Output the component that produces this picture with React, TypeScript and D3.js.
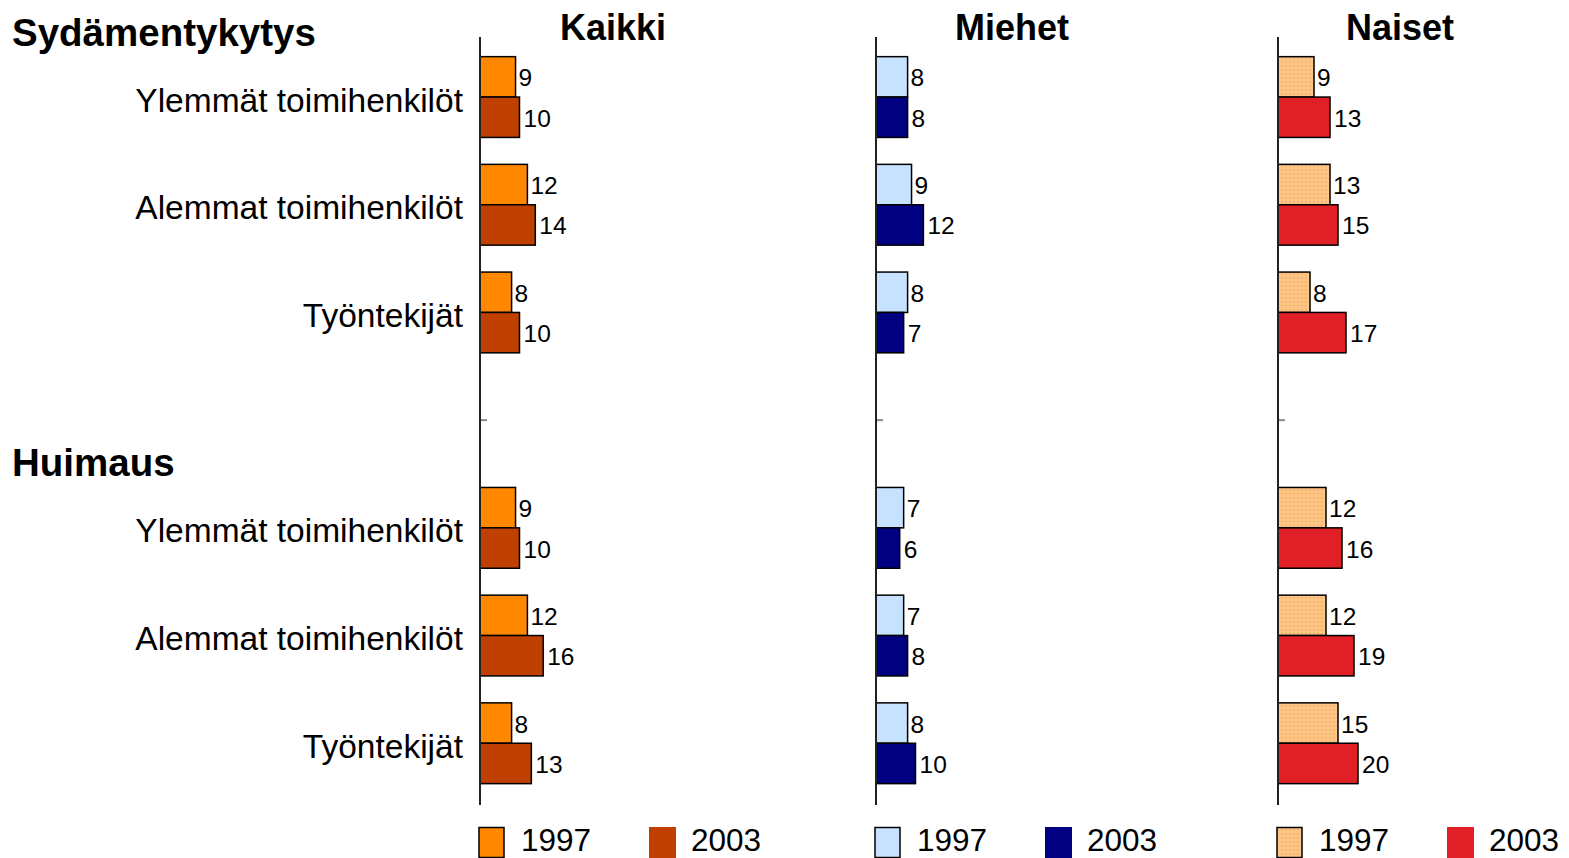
import React from "react";
import * as d3 from "d3";

const sections = ["Sydämentykytys", "Huimaus"];
const categories = ["Ylemmät toimihenkilöt", "Alemmat toimihenkilöt", "Työntekijät"];
const panels = ["Kaikki", "Miehet", "Naiset"];
const years = ["1997", "2003"];

const kaikki1997 = [9, 12, 8, 9, 12, 8];
const kaikki2003 = [10, 14, 10, 10, 16, 13];
const miehet1997 = [8, 9, 8, 7, 7, 8];
const miehet2003 = [8, 12, 7, 6, 8, 10];
const naiset1997 = [9, 13, 8, 12, 12, 15];
const naiset2003 = [13, 15, 17, 16, 19, 20];

const panelData = [
  { name: panels[0], v1997: kaikki1997, v2003: kaikki2003, c1997: "#FF8800", c2003: "#BF4000", axisX: 480, titleX: 613, scaleW: 395 },
  { name: panels[1], v1997: miehet1997, v2003: miehet2003, c1997: "#C6E2FF", c2003: "#000080", axisX: 876, titleX: 1012, scaleW: 395 },
  { name: panels[2], v1997: naiset1997, v2003: naiset2003, c1997: "url(#dots)", c2003: "#E02026", axisX: 1278, titleX: 1400, scaleW: 400 },
];

const FONT = "'Liberation Sans', Arial, Helvetica, sans-serif";

export default function App() {
  // slots: 3 categories, empty gap slot, 3 categories
  const slots = d3.range(7);
  const y = d3.scaleBand<number>().domain(slots).range([43.2, 797.1]).paddingInner(0.25).paddingOuter(0.125);
  const rows = d3.range(6).map((i) => ({ i, slot: i < 3 ? i : i + 1, cat: categories[i % 3] }));
  const half = y.bandwidth() / 2;

  return (
    <svg width={1569} height={858} style={{ position: "absolute", left: 0, top: 0, background: "#fff" }} fontFamily={FONT}>
      <defs>
        <pattern id="dots" width={4} height={4} patternUnits="userSpaceOnUse">
          <rect width={4} height={4} fill="#FFC585" />
          <rect x={1} y={1} width={1.4} height={1.4} fill="#F2A860" />
        </pattern>
      </defs>
      {/* section labels */}
      <text x={12} y={46} fontSize={38.5} fontWeight="bold">{sections[0]}</text>
      <text x={12} y={476} fontSize={38.5} fontWeight="bold">{sections[1]}</text>
      {/* category labels */}
      {rows.map((r) => (
        <text key={"c" + r.i} x={463} y={(y(r.slot) as number) + half + 3} fontSize={33.5} textAnchor="end" dominantBaseline="central">
          {r.cat}
        </text>
      ))}
      {panelData.map((p) => {
        const x = d3.scaleLinear().domain([0, 100]).range([0, p.scaleW]);
        return (
          <g key={p.name}>
            <text x={p.titleX} y={40} fontSize={36} fontWeight="bold" textAnchor="middle">{p.name}</text>
            {rows.map((r) => {
              const top = y(r.slot) as number;
              const w1 = x(p.v1997[r.i]);
              const w2 = x(p.v2003[r.i]);
              return (
                <g key={r.i}>
                  <rect x={p.axisX} y={top} width={w1} height={half} fill={p.c1997} stroke="#000" strokeWidth={1.5} />
                  <rect x={p.axisX} y={top + half} width={w2} height={half} fill={p.c2003} stroke="#000" strokeWidth={1.5} />
                  <text x={p.axisX + w1 + 3} y={top + half / 2 + 1} fontSize={24.5} dominantBaseline="central">{p.v1997[r.i]}</text>
                  <text x={p.axisX + w2 + 4} y={top + half * 1.5 + 1} fontSize={24.5} dominantBaseline="central">{p.v2003[r.i]}</text>
                </g>
              );
            })}
            <line x1={p.axisX} x2={p.axisX} y1={37} y2={805} stroke="#222" strokeWidth={2} />
            <line x1={p.axisX + 1} x2={p.axisX + 7} y1={(y(3) as number) + half} y2={(y(3) as number) + half} stroke="#888" strokeWidth={2} />
            {/* legend */}
            <rect x={p.axisX - 1} y={827.5} width={25} height={30} fill={p.c1997} stroke="#000" strokeWidth={1.5} />
            <text x={p.axisX + 41} y={851} fontSize={31.5}>{years[0]}</text>
            <rect x={p.axisX + 169} y={827} width={27} height={31} fill={p.c2003} />
            <text x={p.axisX + 211} y={851} fontSize={31.5}>{years[1]}</text>
          </g>
        );
      })}
    </svg>
  );
}
